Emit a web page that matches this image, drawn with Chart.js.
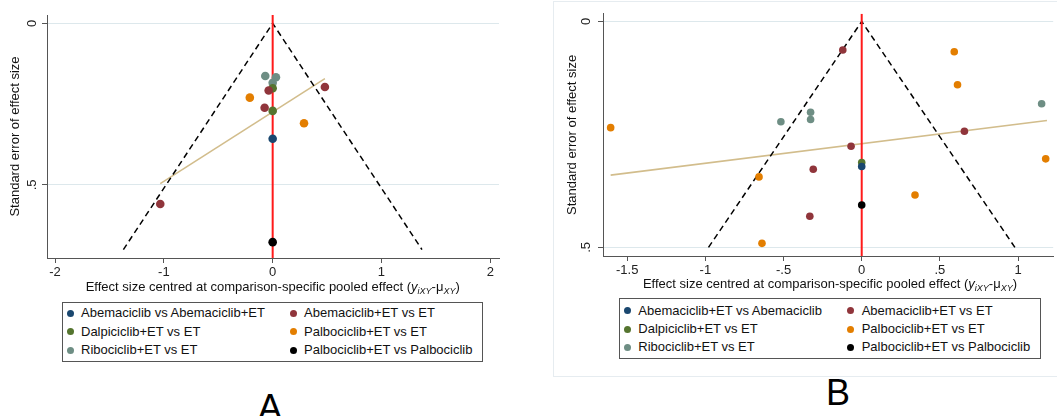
<!DOCTYPE html>
<html><head><meta charset="utf-8">
<script src="https://cdn.jsdelivr.net/npm/chart.js@4/dist/chart.umd.min.js"></script>
<style>
html,body{margin:0;padding:0;background:#fff;width:1057px;height:416px;overflow:hidden;font-family:'Liberation Sans',Arial,sans-serif;}
#root{position:relative;width:1057px;height:416px;}
canvas{position:absolute;}
.xt{position:absolute;font-size:13px;white-space:nowrap;transform:translateX(-50%);color:#111;line-height:15px;}
.xt i{font-style:italic;}
.xt sub{font-size:9px;vertical-align:-3px;line-height:0;}
.leg{position:absolute;border:1px solid #555;box-sizing:border-box;background:#fff;}
.li{position:absolute;font-size:13px;white-space:nowrap;line-height:16px;color:#111;}
.dot{position:absolute;width:7px;height:7px;border-radius:50%;}
.lab{position:absolute;font-size:36px;line-height:36px;transform:translateX(-50%);color:#000;}
#frameB{position:absolute;left:553px;top:1px;width:520px;height:376px;border:1px solid #e6ecf0;box-sizing:border-box;}
</style>
</head><body>
<div id="root">
  <div id="frameB"></div>
  <canvas id="cA" width="530" height="285" style="left:0;top:0;width:530px;height:285px"></canvas>
  <canvas id="cB" width="517" height="280" style="left:540px;top:0;width:517px;height:280px"></canvas>
</div>
<script>
// ---------- Data ----------
const seriesColors = ['#1a476f', '#90353b', '#55752f', '#e37e00', '#6e8e84', '#000000'];
const namesA = ['Abemaciclib vs Abemaciclib+ET', 'Abemaciclib+ET vs ET', 'Dalpiciclib+ET vs ET', 'Palbociclib+ET vs ET', 'Ribociclib+ET vs ET', 'Palbociclib+ET vs Palbociclib'];
const namesB = ['Abemaciclib+ET vs Abemaciclib', 'Abemaciclib+ET vs ET', 'Dalpiciclib+ET vs ET', 'Palbociclib+ET vs ET', 'Ribociclib+ET vs ET', 'Palbociclib+ET vs Palbociclib'];

// Panel A points [effect centred, standard error]
const A_abemaVsAbemaET = [[0, 0.357]];
const A_abemaETvsET = [[-0.037, 0.208], [0.48, 0.197], [-0.074, 0.261], [-1.033, 0.559]];
const A_dalpiETvsET = [[0, 0.201], [0, 0.271]];
const A_palboETvsET = [[-0.21, 0.230], [0.288, 0.309]];
const A_riboETvsET = [[-0.068, 0.163], [0.03, 0.167], [0, 0.184]];
const A_palboETvsPalbo = [[0, 0.677]];
const A_funnel = [[-1.372, 0.7], [0, 0], [1.372, 0.7]];
const A_regression = [[-1.033, 0.496], [0.48, 0.171]];

// Panel B points
const B_abemaETvsAbema = [[0, 0.321]];
const B_abemaETvsET = [[-0.121, 0.063], [0.657, 0.243], [-0.068, 0.276], [-0.310, 0.327], [-0.332, 0.431]];
const B_dalpiETvsET = [[0, 0.312]];
const B_palboETvsET = [[0.592, 0.067], [0.613, 0.140], [-1.606, 0.235], [1.177, 0.304], [-0.657, 0.344], [0.341, 0.384], [-0.638, 0.491]];
const B_riboETvsET = [[1.151, 0.182], [-0.327, 0.201], [-0.327, 0.217], [-0.517, 0.222]];
const B_palboETvsPalbo = [[0, 0.406]];
const B_funnel = [[-0.98, 0.5], [0, 0], [0.98, 0.5]];
const B_regression = [[-1.606, 0.340], [1.185, 0.219]];

// Ticks
const A_xTicks = [-2, -1, 0, 1, 2];
const A_xTickLabels = ['-2', '-1', '0', '1', '2'];
const A_yTicks = [0, 0.5];
const A_yTickLabels = ['0', '.5'];
const B_xTicks = [-1.5, -1, -0.5, 0, 0.5, 1];
const B_xTickLabels = ['-1.5', '-1', '-.5', '0', '.5', '1'];
const B_yTicks = [0, 0.5];
const B_yTickLabels = ['0', '.5'];

const yTitle = 'Standard error of effect size';
const xTitleHTML = 'Effect size centred at comparison-specific pooled effect (<i>y</i><sub><i>iXY</i></sub>-&mu;<sub><i>XY</i></sub>)';
const panelLetters = ['A', 'B'];

// ---------- Drawing ----------
Chart.defaults.font.family = "'Liberation Sans', Arial, sans-serif";
Chart.defaults.color = '#222';

const toPts = arr => arr.map(p => ({x: p[0], y: p[1]}));

function makePanel(canvasId, p) {
  const ds = [];
  p.series.forEach((s, i) => {
    ds.push({type: 'scatter', label: p.names[i], data: toPts(s), backgroundColor: seriesColors[i],
      borderColor: seriesColors[i], pointRadius: p.r, pointBorderWidth: 0, pointHoverRadius: p.r, order: 0});
  });
  ds.push({type: 'line', label: 'funnel', data: toPts(p.funnel), borderColor: '#000', borderWidth: 1.5,
    borderDash: [6, 4], pointRadius: 0, fill: false, tension: 0, order: 2});
  ds.push({type: 'line', label: 'reg', data: toPts(p.reg), borderColor: '#d2bd8c', borderWidth: 1.6,
    pointRadius: 0, fill: false, order: 3});
  ds.push({type: 'line', label: 'null', data: [{x: 0, y: p.yMin}, {x: 0, y: p.yMax}], borderColor: '#ff1a1a',
    borderWidth: 2, pointRadius: 0, fill: false, order: 1});

  return new Chart(document.getElementById(canvasId), {
    type: 'scatter',
    data: {datasets: ds},
    options: {
      responsive: false, animation: false, devicePixelRatio: 1,
      layout: {padding: p.pad},
      plugins: {legend: {display: false}, tooltip: {enabled: false}},
      scales: {
        x: {
          type: 'linear', min: p.xMin, max: p.xMax,
          afterBuildTicks: s => { s.ticks = p.xTicks.map(v => ({value: v})); },
          afterFit: s => { s.height = p.xAxisH; },
          ticks: {callback: (v, i) => p.xTickLabels[i], font: {size: 13}, padding: 2, color: '#222', maxRotation: 0},
          grid: {drawOnChartArea: false, drawTicks: true, tickLength: 5, tickColor: '#555', tickWidth: 1},
          border: {display: true, color: '#555', width: 1}
        },
        y: {
          type: 'linear', reverse: true, min: p.yMin, max: p.yMax,
          afterBuildTicks: s => { s.ticks = p.yTicks.map(v => ({value: v})); },
          afterFit: s => { s.width = p.yAxisW; },
          ticks: {callback: (v, i) => p.yTickLabels[i], font: {size: 13}, padding: p.yTickPad, color: '#222',
            minRotation: 90, maxRotation: 90, crossAlign: 'center'},
          grid: {color: '#dde8ec', lineWidth: 1, drawTicks: true, tickLength: 5, tickColor: '#555', tickWidth: 1},
          border: {display: true, color: '#555', width: 1},
          title: {display: true, text: yTitle, font: {size: 13}, color: '#111', padding: {top: p.yTitlePad, bottom: 0}}
        }
      }
    }
  });
}

makePanel('cA', {
  names: namesA,
  series: [A_abemaVsAbemaET, A_abemaETvsET, A_dalpiETvsET, A_palboETvsET, A_riboETvsET, A_palboETvsPalbo],
  funnel: A_funnel, reg: A_regression, r: 4.3,
  xMin: -2.074, xMax: 2.080, yMin: -0.0257, yMax: 0.726,
  xTicks: A_xTicks, xTickLabels: A_xTickLabels, yTicks: A_yTicks, yTickLabels: A_yTickLabels,
  pad: {left: 0, top: 15, right: 31, bottom: 0}, xAxisH: 27, yAxisW: 47, yTickPad: 4, yTitlePad: 8
});
makePanel('cB', {
  names: namesB,
  series: [B_abemaETvsAbema, B_abemaETvsET, B_dalpiETvsET, B_palboETvsET, B_riboETvsET, B_palboETvsPalbo],
  funnel: B_funnel, reg: B_regression, r: 3.8,
  xMin: -1.655, xMax: 1.225, yMin: -0.017, yMax: 0.519,
  xTicks: B_xTicks, xTickLabels: B_xTickLabels, yTicks: B_yTicks, yTickLabels: B_yTickLabels,
  pad: {left: 0, top: 13, right: 0, bottom: 0}, xAxisH: 24, yAxisW: 63, yTickPad: 6, yTitlePad: 25
});

// ---------- HTML text: x titles, legends, panel letters ----------
const root = document.getElementById('root');
function addXTitle(cx, top) {
  const d = document.createElement('div'); d.className = 'xt'; d.innerHTML = xTitleHTML;
  d.style.left = cx + 'px'; d.style.top = top + 'px'; root.appendChild(d);
}
addXTitle(272.7, 279);
addXTitle(830, 276);

function addLegend(names, box, rowsY, dotX, textX) {
  const L = document.createElement('div'); L.className = 'leg';
  L.style.left = box[0] + 'px'; L.style.top = box[1] + 'px'; L.style.width = box[2] + 'px'; L.style.height = box[3] + 'px';
  names.forEach((n, i) => {
    const row = Math.floor(i / 2), col = i % 2;
    const dot = document.createElement('div'); dot.className = 'dot';
    dot.style.background = seriesColors[i];
    dot.style.left = (dotX[col] - 3.5) + 'px'; dot.style.top = (rowsY[row] - 3.5) + 'px';
    L.appendChild(dot);
    const t = document.createElement('div'); t.className = 'li'; t.textContent = n;
    t.style.left = textX[col] + 'px'; t.style.top = (rowsY[row] - 8) + 'px';
    L.appendChild(t);
  });
  root.appendChild(L);
}
addLegend(namesA, [62, 302, 421, 60], [10.3, 28.7, 47], [7, 230.6], [18, 241]);
addLegend(namesB, [619, 298, 422, 61], [11.7, 30, 48.3], [7.7, 230], [18.3, 241.7]);

function addLetter(txt, cx, top) {
  const d = document.createElement('div'); d.className = 'lab'; d.textContent = txt;
  d.style.left = cx + 'px'; d.style.top = top + 'px'; root.appendChild(d);
}
addLetter(panelLetters[0], 270, 390);
addLetter(panelLetters[1], 838, 375);
</script>
</body></html>
